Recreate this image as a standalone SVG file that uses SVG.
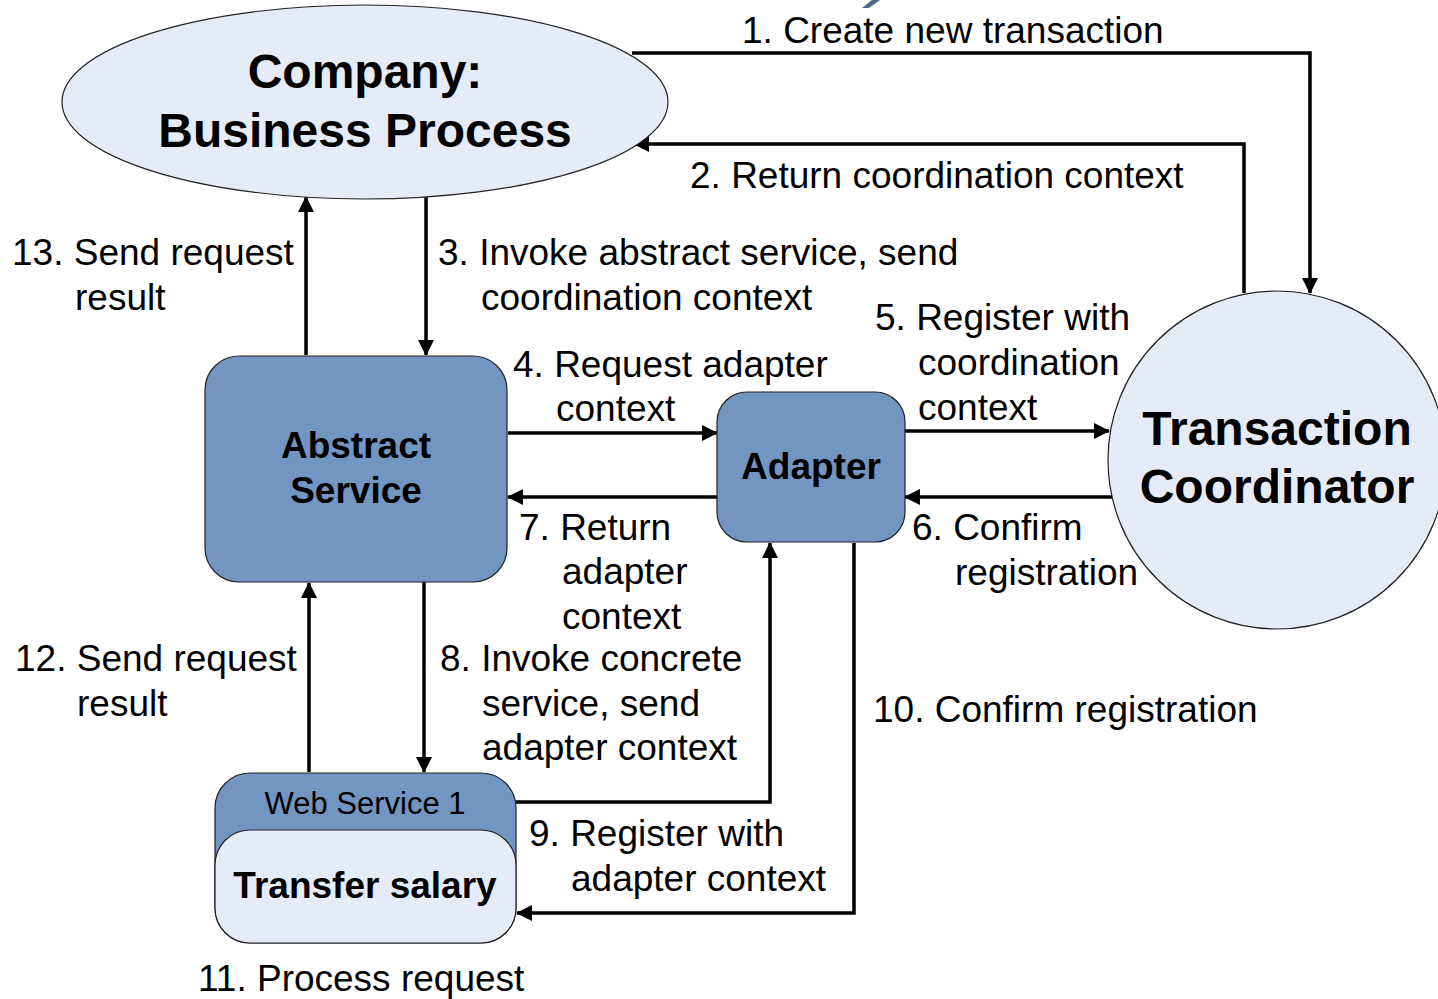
<svg xmlns="http://www.w3.org/2000/svg" width="1438" height="999" viewBox="0 0 1438 999">
  <style>
    .lbl { font-family: "Liberation Sans", Arial, sans-serif; font-size: 37px; fill: #000; }
    .title { font-family: "Liberation Sans", Arial, sans-serif; font-weight: bold; fill: #000; text-anchor: middle; }
    .light { fill: #e6ecf7; stroke: #222; stroke-width: 1.2; }
    .dark { fill: #7295c1; stroke: #222; stroke-width: 1.2; }
    .wire { fill: none; stroke: #000; stroke-width: 3.5; }
  </style>
  <defs>
    <marker id="arrow" markerUnits="userSpaceOnUse" markerWidth="16" markerHeight="16" refX="15" refY="8" orient="auto">
      <path d="M0,0 L16,8 L0,16 z" fill="#000"/>
    </marker>
  </defs>

  <rect width="1438" height="999" fill="#fff"/>

  <!-- partial stroke at the top edge -->
  <polygon points="862,8 869,8 880,0 872,0" fill="#4a6a88"/>

  <g id="connectors">
    <!-- 1 -->
    <polyline class="wire" points="632,53 1310,53 1310,293" marker-end="url(#arrow)"/>
    <!-- 2 -->
    <polyline class="wire" points="1244,293 1244,144 634,144" marker-end="url(#arrow)"/>
    <!-- 3 -->
    <line class="wire" x1="426" y1="197" x2="426" y2="355" marker-end="url(#arrow)"/>
    <!-- 13 -->
    <line class="wire" x1="306" y1="355" x2="306" y2="197" marker-end="url(#arrow)"/>
    <!-- 4 -->
    <line class="wire" x1="508" y1="433" x2="717" y2="433" marker-end="url(#arrow)"/>
    <!-- 7 -->
    <line class="wire" x1="717" y1="497" x2="508" y2="497" marker-end="url(#arrow)"/>
    <!-- 5 -->
    <line class="wire" x1="903" y1="431" x2="1109" y2="431" marker-end="url(#arrow)"/>
    <!-- 6 -->
    <line class="wire" x1="1112" y1="497" x2="905" y2="497" marker-end="url(#arrow)"/>
    <!-- 8 -->
    <line class="wire" x1="424" y1="582" x2="424" y2="772" marker-end="url(#arrow)"/>
    <!-- 12 -->
    <line class="wire" x1="309" y1="772" x2="309" y2="583" marker-end="url(#arrow)"/>
    <!-- 9 -->
    <polyline class="wire" points="516,802 770,802 770,543" marker-end="url(#arrow)"/>
    <!-- 10 -->
    <polyline class="wire" points="854,543 854,913 517,913" marker-end="url(#arrow)"/>
  </g>

  <g id="business-process">
    <ellipse class="light" cx="365" cy="102" rx="303" ry="97"/>
    <text class="title" x="365" y="88" font-size="48">Company:</text>
    <text class="title" x="365" y="147" font-size="48">Business Process</text>
  </g>

  <g id="abstract-service">
    <rect class="dark" x="205" y="356" width="302" height="226" rx="34"/>
    <text class="title" x="356" y="458" font-size="37">Abstract</text>
    <text class="title" x="356" y="503" font-size="37">Service</text>
  </g>

  <g id="adapter">
    <rect class="dark" x="717" y="392" width="188" height="150" rx="30"/>
    <text class="title" x="811" y="479" font-size="37">Adapter</text>
  </g>

  <g id="transaction-coordinator">
    <circle class="light" cx="1277" cy="460" r="169"/>
    <text class="title" x="1277" y="445" font-size="48">Transaction</text>
    <text class="title" x="1277" y="503" font-size="48">Coordinator</text>
  </g>

  <g id="web-service">
    <rect class="dark" x="215" y="773" width="301" height="170" rx="35"/>
    <rect class="light" x="215" y="830" width="301" height="113" rx="35"/>
    <text class="title" x="365" y="814" font-size="31" style="font-weight:normal">Web Service 1</text>
    <text class="title" x="365" y="898" font-size="37">Transfer salary</text>
  </g>

  <g id="labels">
    <text class="lbl" x="742" y="43">1. Create new transaction</text>
    <text class="lbl" x="690" y="188">2. Return coordination context</text>
    <text class="lbl" x="438" y="265">3. Invoke abstract service, send</text>
    <text class="lbl" x="481" y="310">coordination context</text>
    <text class="lbl" x="12" y="265">13. Send request</text>
    <text class="lbl" x="75" y="310">result</text>
    <text class="lbl" x="875" y="330">5. Register with</text>
    <text class="lbl" x="918" y="375">coordination</text>
    <text class="lbl" x="918" y="420">context</text>
    <text class="lbl" x="513" y="377">4. Request adapter</text>
    <text class="lbl" x="556" y="421">context</text>
    <text class="lbl" x="519" y="540">7. Return</text>
    <text class="lbl" x="562" y="584">adapter</text>
    <text class="lbl" x="562" y="629">context</text>
    <text class="lbl" x="912" y="540">6. Confirm</text>
    <text class="lbl" x="955" y="585">registration</text>
    <text class="lbl" x="15" y="671">12. Send request</text>
    <text class="lbl" x="77" y="716">result</text>
    <text class="lbl" x="440" y="671">8. Invoke concrete</text>
    <text class="lbl" x="482" y="716">service, send</text>
    <text class="lbl" x="482" y="760">adapter context</text>
    <text class="lbl" x="873" y="722">10. Confirm registration</text>
    <text class="lbl" x="529" y="846">9. Register with</text>
    <text class="lbl" x="571" y="891">adapter context</text>
    <text class="lbl" x="198" y="991">11. Process request</text>
  </g>
</svg>
